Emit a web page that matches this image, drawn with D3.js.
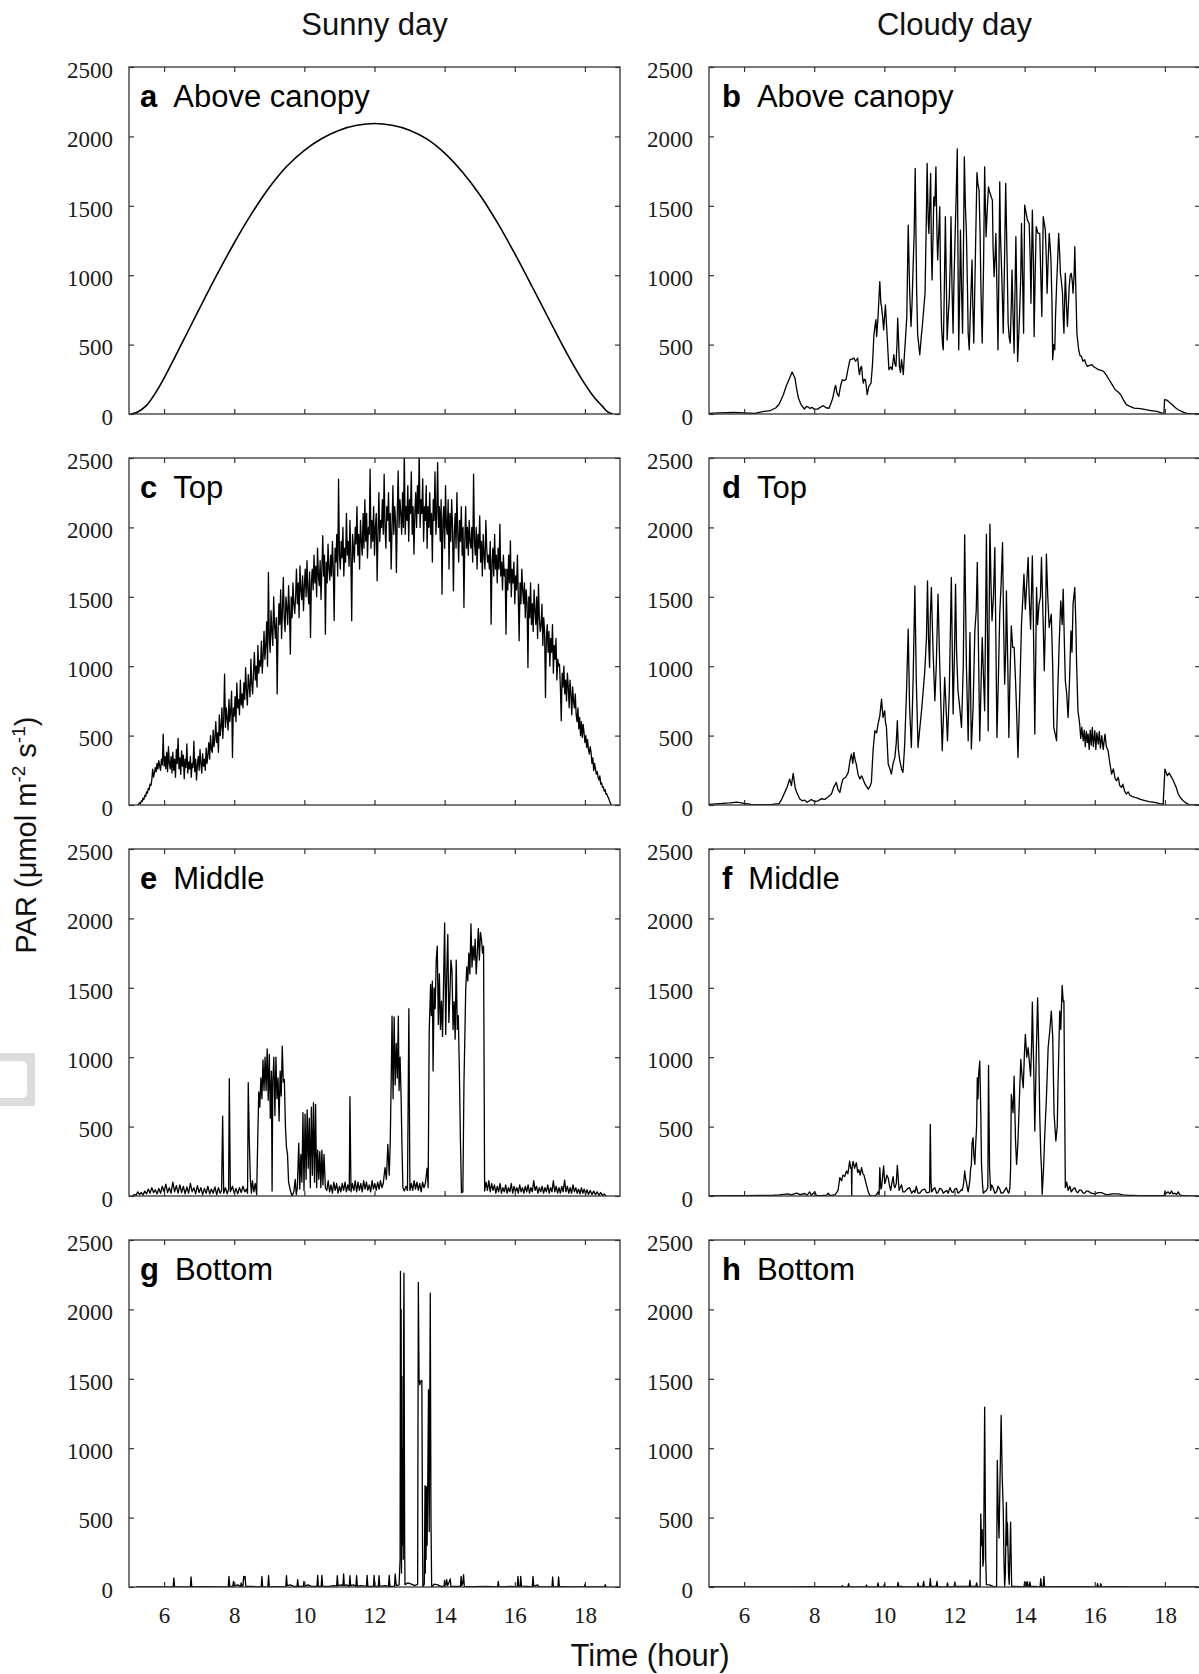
<!DOCTYPE html>
<html>
<head>
<meta charset="utf-8">
<script src="https://cdn.jsdelivr.net/npm/d3@7"></script>
<style>
  body { margin: 0; background: #fff; }
  svg { display: block; }
</style>
</head>
<body>
<div id="chart"></div>
<script>
// axes
var hourDomain = [5, 19];
var parDomain = [0, 2500];
var hourTicks = [6, 8, 10, 12, 14, 16, 18];
var parTicks = [0, 500, 1000, 1500, 2000, 2500];

var columnTitles = ["Sunny day", "Cloudy day"];
var panelLetters = ["a", "b", "c", "d", "e", "f", "g", "h"];
var panelNames = ["Above canopy", "Above canopy", "Top", "Top", "Middle", "Middle", "Bottom", "Bottom"];

// [hour, PAR]
var sunnyAbove = [[5.05,0],[5.25,15],[5.5,62],[5.75,150],[6.0,259],[6.5,505],[7.0,755],[7.5,1000],[8.0,1232],
  [8.5,1445],[9.0,1632],[9.5,1785],[10.0,1900],[10.5,1985],[11.0,2045],[11.5,2080],[12.0,2093],[12.5,2080],
  [13.0,2045],[13.5,1980],[14.0,1880],[14.5,1745],[15.0,1580],[15.5,1380],[16.0,1155],[16.5,915],[17.0,670],
  [17.5,430],[18.0,215],[18.25,125],[18.5,55],[18.65,15],[18.8,0]];

var cloudyAbove = [[5.0,5],[5.3,8],[5.71,12],[6.0,8],[6.3,5],[6.58,19],[6.75,25],[6.9,43],[7.0,70],[7.12,139],
  [7.2,200],[7.28,247],[7.37,302],[7.45,259],[7.5,180],[7.55,115],[7.62,70],[7.72,36],[7.78,55],[7.83,50],
  [7.88,40],[7.93,48],[8.0,35],[8.1,35],[8.18,50],[8.26,60],[8.34,45],[8.42,40],[8.48,80],[8.53,115],[8.58,180],
  [8.61,206],[8.65,150],[8.7,127],[8.75,200],[8.8,247],[8.86,240],[8.91,252],[8.96,320],[9.02,391],[9.08,395],
  [9.13,403],[9.18,380],[9.24,403],[9.27,320],[9.29,283],[9.32,330],[9.35,343],[9.38,260],[9.4,223],[9.43,250],
  [9.46,247],[9.49,190],[9.51,139],[9.56,200],[9.62,223],[9.66,350],[9.7,560],[9.73,630],[9.76,680],[9.78,558],
  [9.82,700],[9.87,954],[9.9,800],[9.92,774],[9.95,700],[9.98,606],[10.03,786],[10.06,650],[10.08,558],
  [10.13,319],[10.18,340],[10.22,319],[10.27,427],[10.3,360],[10.33,343],[10.36,500],[10.38,690],[10.41,500],
  [10.43,343],[10.46,300],[10.49,391],[10.52,330],[10.54,283],[10.57,420],[10.6,534],[10.64,700],[10.68,1361],
  [10.72,900],[10.76,630],[10.79,800],[10.82,1062],[10.85,1300],[10.88,1769],[10.92,900],[10.95,570],[10.98,500],
  [11.01,427],[11.05,550],[11.09,654],[11.12,750],[11.16,870],[11.19,1300],[11.22,1805],[11.25,1400],[11.27,1301],
  [11.3,1550],[11.32,1733],[11.34,1200],[11.36,966],[11.39,1300],[11.41,1565],[11.44,1500],[11.47,1781],
  [11.5,1300],[11.52,1110],[11.55,1300],[11.58,1493],[11.6,1000],[11.63,630],[11.66,500],[11.68,463],[11.71,900],
  [11.74,1421],[11.77,900],[11.79,534],[11.82,700],[11.85,822],[11.88,1100],[11.9,1421],[11.93,900],[11.96,582],
  [11.98,900],[12.01,1205],[12.05,1600],[12.08,1910],[12.1,1100],[12.12,463],[12.15,900],[12.17,1325],[12.2,900],
  [12.23,582],[12.26,1300],[12.28,1853],[12.31,1500],[12.34,1301],[12.37,900],[12.39,582],[12.42,463],[12.46,800],
  [12.5,1110],[12.52,800],[12.55,511],[12.6,1200],[12.64,1738],[12.67,1650],[12.7,1613],[12.73,1300],[12.75,966],
  [12.77,700],[12.79,511],[12.83,1100],[12.86,1781],[12.88,1500],[12.9,1277],[12.94,1500],[12.97,1637],[13.0,1600],
  [13.02,1589],[13.05,1560],[13.08,1541],[13.1,1200],[13.13,990],[13.16,1150],[13.18,1301],[13.21,900],[13.24,463],
  [13.27,1100],[13.29,1673],[13.31,1300],[13.34,1062],[13.37,800],[13.39,582],[13.42,1000],[13.46,1661],[13.5,1100],
  [13.53,654],[13.56,550],[13.59,511],[13.62,800],[13.64,1038],[13.67,700],[13.7,439],[13.72,800],[13.75,1277],
  [13.78,800],[13.8,379],[13.83,550],[13.86,750],[13.89,1000],[13.91,1373],[13.94,1000],[13.97,582],[14.0,1505],
  [14.04,1450],[14.08,1397],[14.13,1373],[14.16,1100],[14.18,798],[14.22,1469],[14.25,1100],[14.27,558],[14.3,1000],
  [14.33,1349],[14.38,1301],[14.43,1301],[14.46,1000],[14.49,702],[14.53,1421],[14.59,1325],[14.62,1100],[14.64,870],
  [14.67,1100],[14.7,1301],[14.73,1200],[14.75,1110],[14.78,800],[14.8,391],[14.83,500],[14.86,463],[14.88,700],
  [14.91,918],[14.94,1100],[14.97,1301],[15.0,1150],[15.02,1014],[15.05,950],[15.08,870],[15.1,700],[15.12,582],
  [15.14,800],[15.16,1014],[15.19,800],[15.22,630],[15.25,800],[15.27,918],[15.3,1000],[15.33,1014],[15.36,950],
  [15.38,870],[15.41,1000],[15.43,1205],[15.46,900],[15.49,582],[15.54,463],[15.58,420],[15.62,415],[15.66,380],
  [15.71,391],[15.75,360],[15.79,343],[15.85,350],[15.92,355],[15.97,340],[16.03,331],[16.1,320],[16.18,315],
  [16.25,307],[16.33,280],[16.41,247],[16.5,210],[16.58,175],[16.66,160],[16.74,139],[16.82,100],[16.9,67],
  [17.0,55],[17.12,43],[17.3,38],[17.45,31],[17.6,25],[17.77,19],[17.9,8],[17.97,0],[17.99,103],[18.05,100],
  [18.1,91],[18.15,80],[18.21,67],[18.3,45],[18.38,31],[18.46,20],[18.54,12],[18.63,5],[18.72,2],[18.85,0],[18.98,0]];

// sunny top: one reading every 0.025 h from 5.25 h (20 per half hour)
var sunnyTopStart = 5.25;
var sunnyTopStep = 0.025;
var sunnyTop = [
  0, 5, 15, 10, 30, 25, 50, 40, 70, 60, 95, 85, 120, 110, 150, 140, 180, 259, 200, 230,
  270, 240, 300, 260, 320, 280, 250, 330, 290, 511, 280, 350, 260, 380, 240, 420, 300, 260, 350, 230,
  380, 250, 330, 200, 400, 300, 480, 260, 340, 220, 390, 280, 360, 190, 330, 270, 440, 230, 310, 260,
  350, 200, 300, 270, 460, 240, 330, 180, 290, 350, 250, 400, 300, 230, 370, 280, 330, 250, 410, 300,
  360, 450, 330, 500, 400, 380, 540, 420, 480, 600, 450, 520, 380, 650, 500, 560, 700, 480, 620, 943,
  560, 700, 620, 540, 760, 600, 680, 820, 343, 700, 640, 780, 600, 880, 700, 760, 650, 900, 720, 800,
  700, 880, 760, 990, 820, 720, 940, 860, 780, 1050, 880, 800, 960, 1100, 900, 1000, 850, 1150, 950, 1040,
  1000, 1180, 950, 1080, 1250, 1050, 1150, 1320, 1000, 1675, 1200, 1100, 1400, 1250, 1150, 1500, 1300, 1200, 1350, 800,
  1250, 1450, 1300, 1550, 1200, 1400, 1640, 1350, 1250, 1500, 1420, 1300, 1580, 1400, 1087, 1500, 1350, 1600, 1450, 1380,
  1500, 1700, 1450, 1600, 1350, 1723, 1550, 1480, 1650, 1400, 1580, 1700, 1500, 1760, 1550, 1450, 1680, 1207, 1600, 1700,
  1550, 1800, 1600, 1720, 1500, 1850, 1650, 1580, 1760, 1480, 1700, 1940, 1650, 1800, 1231, 1750, 1600, 1880, 1700, 1620,
  1800, 1650, 1900, 1700, 1330, 1850, 1750, 1950, 1650, 2347, 1800, 1700, 1900, 1780, 2000, 1650, 1850, 1750, 2100, 1800,
  1900, 1720, 2050, 1800, 1327, 1950, 1850, 1750, 2000, 1880, 2150, 1800, 1950, 1700, 2050, 1900, 1800, 2100, 1850, 2200,
  1900, 2100, 1780, 2000, 1950, 2420, 1850, 2050, 1900, 2150, 1800, 2000, 2100, 1615, 1950, 2250, 1900, 2050, 2000, 2200,
  1950, 2383, 2000, 1850, 2150, 2050, 2250, 1900, 2100, 1700, 2000, 2300, 1950, 2150, 2050, 1675, 2100, 2407, 2000, 2200,
  2100, 1950, 2250, 2000, 2550, 1950, 2150, 2050, 2300, 1900, 2200, 2100, 2400, 1950, 2150, 1807, 2100, 2250, 2000, 2300,
  2100, 2550, 2000, 2200, 2100, 2350, 1900, 2150, 2050, 2300, 1850, 2150, 2000, 2250, 1950, 2100, 1750, 2200, 2050, 2400,
  1950, 2100, 2467, 2000, 2150, 1900, 2200, 1519, 2050, 2150, 1850, 2300, 2000, 1950, 2200, 1700, 2100, 1900, 2200, 2000,
  1543, 1950, 2100, 1850, 2250, 1950, 1750, 2050, 1900, 2150, 1800, 2000, 1423, 1900, 2150, 1850, 2000, 1800, 2050, 1900,
  1850, 2000, 1750, 2383, 1900, 1800, 2000, 1700, 1950, 1850, 2083, 1750, 1900, 1650, 1950, 1800, 1700, 2050, 1850, 1750,
  1800, 1700, 1900, 1303, 1750, 1850, 1650, 1950, 1700, 1800, 1600, 1850, 1700, 2023, 1650, 1750, 1550, 1800, 1650, 1700,
  1231, 1700, 1550, 1800, 1600, 1903, 1500, 1700, 1600, 1750, 1450, 1650, 1550, 1800, 1500, 1183, 1600, 1450, 1700, 1550,
  1450, 1600, 1350, 1550, 1450, 991, 1500, 1350, 1600, 1300, 1450, 1250, 1550, 1400, 1300, 1500, 1200, 1591, 1350, 1250,
  1300, 1447, 1150, 1350, 1250, 775, 1200, 1300, 1100, 1250, 1000, 1200, 1100, 1300, 950, 1150, 1050, 1200, 900, 1050,
  1000, 1015, 850, 607, 950, 850, 1000, 800, 900, 750, 950, 850, 700, 900, 800, 650, 850, 750, 700, 800,
  650, 600, 700, 550, 631, 500, 600, 487, 580, 520, 450, 500, 415, 470, 400, 367, 420, 380, 300, 340,
  247, 300, 260, 223, 240, 200, 180, 210, 150, 160, 127, 130, 100, 110, 79, 80, 60, 50, 30, 15,
  0];

var cloudyTop = [[5.0,5],[5.3,10],[5.6,15],[5.8,20],[6.0,12],[6.2,5],[6.5,3],[6.8,5],[7.0,10],[7.07,40],[7.16,91],
  [7.23,130],[7.3,187],[7.35,140],[7.4,228],[7.46,120],[7.52,80],[7.59,43],[7.66,30],[7.73,35],[7.8,20],[7.92,40],
  [8.0,25],[8.11,30],[8.2,45],[8.3,40],[8.4,60],[8.49,79],[8.56,130],[8.63,163],[8.68,110],[8.73,90],[8.78,150],
  [8.82,187],[8.9,200],[8.97,235],[9.02,320],[9.06,367],[9.1,300],[9.13,379],[9.17,320],[9.2,295],[9.25,220],
  [9.3,187],[9.35,210],[9.39,187],[9.45,150],[9.54,115],[9.6,140],[9.63,163],[9.68,400],[9.73,535],[9.78,520],
  [9.82,583],[9.87,640],[9.92,763],[9.96,631],[10.01,679],[10.03,600],[10.06,559],[10.11,295],[10.16,260],
  [10.2,223],[10.25,300],[10.3,343],[10.34,450],[10.37,607],[10.4,400],[10.44,319],[10.49,260],[10.53,235],
  [10.56,350],[10.58,439],[10.63,800],[10.68,1267],[10.72,700],[10.77,415],[10.82,900],[10.87,1579],[10.91,900],
  [10.96,415],[11.01,550],[11.06,679],[11.1,800],[11.15,955],[11.2,1200],[11.23,1615],[11.26,1200],[11.29,991],
  [11.31,1350],[11.34,1567],[11.39,1100],[11.44,751],[11.48,1000],[11.53,1519],[11.58,1000],[11.65,391],
  [11.68,600],[11.72,919],[11.76,700],[11.8,463],[11.85,800],[11.91,1639],[11.96,655],[12.0,1100],[12.03,1591],
  [12.06,1100],[12.1,823],[12.15,700],[12.2,559],[12.25,1000],[12.29,1946],[12.34,1000],[12.39,463],[12.44,1243],
  [12.48,403],[12.53,700],[12.58,1255],[12.62,1400],[12.65,1747],[12.72,463],[12.76,900],[12.79,1207],[12.83,900],
  [12.86,679],[12.91,1951],[12.94,1200],[12.96,535],[13.01,2023],[13.04,1600],[13.07,1327],[13.11,1500],
  [13.15,1855],[13.18,1200],[13.21,487],[13.25,900],[13.29,1375],[13.33,1600],[13.37,1891],[13.4,1300],
  [13.43,871],[13.46,1100],[13.48,1543],[13.52,1000],[13.55,487],[13.58,900],[13.62,1291],[13.66,1135],
  [13.7,1135],[13.74,900],[13.77,679],[13.81,343],[13.86,800],[13.91,1303],[13.95,1500],[13.98,1663],[14.02,1411],
  [14.06,1600],[14.1,1783],[14.13,1500],[14.17,1267],[14.22,1795],[14.25,1300],[14.29,511],[14.34,1567],
  [14.37,1300],[14.41,1447],[14.45,1500],[14.48,1783],[14.52,1400],[14.56,967],[14.6,1400],[14.62,1807],
  [14.66,1500],[14.7,1279],[14.76,1375],[14.8,1000],[14.83,559],[14.88,500],[14.91,463],[14.95,871],[14.99,1200],
  [15.03,1471],[15.07,1300],[15.1,1555],[15.13,1200],[15.16,895],[15.2,800],[15.24,631],[15.28,900],[15.32,1255],
  [15.35,1100],[15.38,1447],[15.43,1567],[15.46,1300],[15.48,1039],[15.52,679],[15.57,583],[15.6,480],[15.63,560],
  [15.67,463],[15.7,540],[15.73,420],[15.76,530],[15.79,450],[15.81,511],[15.84,400],[15.87,540],[15.9,430],
  [15.93,559],[15.96,420],[16.0,535],[16.03,400],[16.06,520],[16.1,439],[16.13,530],[16.16,410],[16.2,500],
  [16.24,400],[16.29,511],[16.33,420],[16.38,391],[16.43,300],[16.48,223],[16.53,260],[16.58,190],[16.62,175],
  [16.67,200],[16.71,140],[16.76,127],[16.8,150],[16.85,100],[16.9,79],[16.95,95],[17.0,70],[17.07,60],
  [17.14,55],[17.22,50],[17.3,40],[17.43,31],[17.55,25],[17.71,19],[17.85,10],[17.95,7],[18.0,259],[18.04,230],
  [18.07,211],[18.12,230],[18.19,199],[18.23,180],[18.28,151],[18.33,120],[18.38,79],[18.45,50],[18.52,31],
  [18.6,15],[18.66,7],[18.75,0],[18.98,0]];

var sunnyMiddle = [[5.1,0],[5.15,10],[5.2,5],[5.25,30],[5.3,10],[5.35,25],[5.4,8],[5.45,35],[5.5,15],[5.55,50],
  [5.6,20],[5.65,60],[5.7,25],[5.75,45],[5.8,15],[5.85,55],[5.9,20],[5.95,70],[6.0,30],[6.05,85],[6.1,25],
  [6.15,60],[6.2,20],[6.25,100],[6.3,30],[6.35,75],[6.4,20],[6.45,80],[6.5,25],[6.55,70],[6.6,15],[6.65,65],
  [6.7,20],[6.75,90],[6.8,30],[6.85,60],[6.9,15],[6.95,75],[7.0,25],[7.05,60],[7.1,10],[7.15,55],[7.2,20],
  [7.25,70],[7.3,15],[7.35,50],[7.4,20],[7.45,65],[7.5,10],[7.55,60],[7.6,20],[7.64,40],[7.67,576],[7.7,20],
  [7.75,60],[7.8,15],[7.84,50],[7.86,845],[7.89,30],[7.95,70],[8.0,20],[8.05,55],[8.1,15],[8.15,60],[8.2,25],
  [8.25,70],[8.3,30],[8.35,50],[8.38,20],[8.4,816],[8.43,400],[8.46,120],[8.49,20],[8.52,110],[8.56,30],
  [8.6,90],[8.64,10],[8.67,400],[8.7,750],[8.73,640],[8.76,850],[8.79,700],[8.82,980],[8.85,760],[8.88,1000],
  [8.91,760],[8.94,1060],[8.97,690],[9.0,1020],[9.03,560],[9.06,900],[9.08,36],[9.1,820],[9.13,1000],[9.16,580],
  [9.19,1000],[9.22,700],[9.25,850],[9.28,540],[9.31,900],[9.34,720],[9.37,1080],[9.4,820],[9.43,840],[9.46,500],
  [9.49,350],[9.52,300],[9.55,100],[9.6,40],[9.65,0],[9.7,30],[9.74,120],[9.77,10],[9.8,60],[9.84,380],[9.87,50],
  [9.9,300],[9.93,100],[9.96,600],[9.99,40],[10.02,590],[10.05,120],[10.08,620],[10.11,200],[10.14,560],
  [10.17,60],[10.2,640],[10.23,150],[10.26,672],[10.29,100],[10.32,660],[10.35,60],[10.38,330],[10.41,120],
  [10.44,320],[10.47,60],[10.5,330],[10.53,80],[10.56,300],[10.6,60],[10.64,40],[10.68,110],[10.72,30],
  [10.76,80],[10.8,20],[10.84,100],[10.88,40],[10.92,90],[10.96,20],[11.0,70],[11.04,30],[11.08,90],[11.12,40],
  [11.16,100],[11.2,30],[11.24,80],[11.28,40],[11.3,715],[11.33,30],[11.37,90],[11.41,40],[11.45,110],[11.49,30],
  [11.53,100],[11.57,40],[11.61,90],[11.65,30],[11.69,110],[11.73,50],[11.77,100],[11.81,40],[11.85,80],
  [11.89,30],[11.93,110],[11.97,50],[12.01,90],[12.05,40],[12.09,100],[12.13,50],[12.17,110],[12.21,60],
  [12.25,90],[12.3,204],[12.34,120],[12.38,372],[12.42,150],[12.45,400],[12.48,900],[12.5,1296],[12.53,700],
  [12.56,1290],[12.59,800],[12.62,1100],[12.65,850],[12.68,1296],[12.7,760],[12.73,1000],[12.76,700],[12.78,400],
  [12.81,60],[12.85,36],[12.9,70],[12.94,40],[12.98,1349],[13.01,40],[13.05,90],[13.09,40],[13.13,110],
  [13.17,50],[13.21,100],[13.25,40],[13.29,90],[13.33,30],[13.37,100],[13.41,60],[13.45,90],[13.5,200],
  [13.53,60],[13.56,1188],[13.6,1524],[13.62,1300],[13.65,1548],[13.67,900],[13.7,1500],[13.73,1350],
  [13.76,1700],[13.79,1800],[13.82,1236],[13.85,1600],[13.88,1200],[13.91,1404],[13.94,1150],[13.97,1550],
  [14.0,1968],[14.03,1164],[14.06,1600],[14.09,1884],[14.12,1250],[14.15,1450],[14.18,1700],[14.21,1620],
  [14.24,1200],[14.27,1400],[14.3,1130],[14.33,1700],[14.36,1200],[14.39,1300],[14.42,900],[14.45,400],
  [14.48,24],[14.52,30],[14.55,800],[14.58,1200],[14.6,1476],[14.63,1650],[14.66,1550],[14.69,1750],[14.72,1600],
  [14.75,1961],[14.78,1650],[14.81,1800],[14.84,1700],[14.87,1850],[14.9,1600],[14.93,1750],[14.96,1927],
  [14.99,1700],[15.02,1900],[15.05,1850],[15.08,1750],[15.11,1800],[15.14,36],[15.18,100],[15.22,40],[15.26,110],
  [15.3,30],[15.34,90],[15.38,40],[15.42,80],[15.46,20],[15.5,70],[15.54,30],[15.58,90],[15.62,20],[15.66,60],
  [15.7,30],[15.74,80],[15.78,20],[15.82,60],[15.86,30],[15.9,90],[15.94,20],[15.98,70],[16.02,30],[16.06,60],
  [16.1,20],[16.14,80],[16.18,30],[16.22,60],[16.26,20],[16.3,70],[16.34,30],[16.38,80],[16.42,20],[16.46,60],
  [16.5,30],[16.54,110],[16.58,40],[16.62,70],[16.66,20],[16.7,60],[16.74,30],[16.78,70],[16.82,20],[16.86,60],
  [16.9,30],[16.94,80],[16.98,20],[17.02,60],[17.06,30],[17.1,110],[17.14,30],[17.18,70],[17.22,20],[17.26,60],
  [17.3,20],[17.34,70],[17.38,30],[17.42,115],[17.46,30],[17.5,70],[17.54,20],[17.58,60],[17.62,20],[17.66,80],
  [17.7,30],[17.74,60],[17.78,20],[17.82,50],[17.86,15],[17.9,60],[17.94,20],[17.98,50],[18.02,15],[18.06,45],
  [18.1,10],[18.15,40],[18.2,10],[18.25,35],[18.3,10],[18.35,30],[18.4,5],[18.45,25],[18.5,5],[18.55,15],[18.6,0]];

var cloudyMiddle = [[5.0,0],[5.5,2],[6.0,3],[6.5,5],[6.8,4],[7.0,8],[7.25,15],[7.35,8],[7.5,20],[7.6,10],[7.73,18],
  [7.8,6],[7.87,30],[7.92,5],[8.02,30],[8.06,4],[8.2,3],[8.35,6],[8.4,20],[8.45,4],[8.49,5],[8.6,10],[8.68,40],
  [8.73,132],[8.78,110],[8.82,150],[8.87,140],[8.92,180],[8.96,160],[9.01,252],[9.04,200],[9.06,200],[9.07,5],
  [9.08,210],[9.11,250],[9.15,200],[9.2,240],[9.24,170],[9.27,190],[9.31,150],[9.35,204],[9.39,160],[9.42,150],
  [9.46,110],[9.49,80],[9.53,40],[9.58,5],[9.65,2],[9.73,0],[9.78,10],[9.82,30],[9.85,10],[9.87,204],[9.9,50],
  [9.92,60],[9.95,140],[9.98,216],[10.01,90],[10.03,100],[10.07,150],[10.11,130],[10.15,70],[10.18,40],
  [10.22,100],[10.25,140],[10.28,70],[10.3,60],[10.34,90],[10.37,220],[10.42,40],[10.45,60],[10.49,80],
  [10.53,30],[10.58,30],[10.65,50],[10.72,60],[10.78,20],[10.84,40],[10.87,25],[10.91,70],[10.96,20],[11.01,20],
  [11.08,45],[11.15,50],[11.2,25],[11.25,25],[11.29,30],[11.31,516],[11.33,100],[11.35,30],[11.4,50],[11.44,60],
  [11.49,20],[11.53,25],[11.58,55],[11.63,50],[11.68,20],[11.72,30],[11.78,40],[11.82,20],[11.87,60],[11.92,30],
  [11.96,25],[12.01,50],[12.06,55],[12.1,20],[12.15,30],[12.19,45],[12.22,40],[12.26,90],[12.29,180],[12.32,120],
  [12.34,100],[12.37,50],[12.39,30],[12.42,80],[12.44,120],[12.46,200],[12.48,220],[12.5,380],[12.53,420],
  [12.55,300],[12.58,228],[12.6,350],[12.63,500],[12.65,852],[12.67,700],[12.69,880],[12.72,972],[12.75,600],
  [12.77,228],[12.8,80],[12.82,20],[12.86,30],[12.91,40],[12.95,60],[12.97,941],[13.0,200],[13.03,40],[13.06,80],
  [13.1,60],[13.15,20],[13.2,30],[13.24,70],[13.29,50],[13.33,20],[13.39,25],[13.43,40],[13.48,60],[13.52,30],
  [13.55,20],[13.58,60],[13.6,200],[13.62,732],[13.65,650],[13.67,600],[13.7,864],[13.74,400],[13.77,228],
  [13.79,300],[13.81,396],[13.85,700],[13.89,984],[13.93,850],[13.96,780],[13.99,1000],[14.02,1164],[14.06,1000],
  [14.1,1068],[14.14,950],[14.17,864],[14.2,1100],[14.22,1397],[14.26,900],[14.29,468],[14.33,1000],[14.37,1428],
  [14.4,1100],[14.43,588],[14.46,300],[14.48,200],[14.5,12],[14.54,200],[14.57,420],[14.62,700],[14.67,1068],
  [14.72,1200],[14.76,1332],[14.8,1150],[14.84,588],[14.89,396],[14.93,500],[14.95,780],[14.97,1000],[15.0,1332],
  [15.03,1200],[15.07,1517],[15.1,1400],[15.12,1404],[15.14,700],[15.16,60],[15.2,100],[15.24,40],[15.29,70],
  [15.33,30],[15.38,50],[15.43,60],[15.48,30],[15.52,25],[15.57,45],[15.62,40],[15.67,20],[15.71,20],[15.76,35],
  [15.81,35],[15.9,20],[16.0,15],[16.1,25],[16.19,25],[16.3,12],[16.38,10],[16.5,15],[16.67,15],[16.8,8],
  [16.95,5],[17.1,4],[17.24,3],[17.4,3],[17.62,2],[17.8,3],[17.98,5],[18.0,36],[18.04,20],[18.09,30],[18.14,15],
  [18.19,36],[18.23,15],[18.28,20],[18.33,10],[18.38,30],[18.42,10],[18.47,5],[18.66,0],[18.95,0]];

var sunnyBottom = [[5.2,0],[6.26,0],[6.28,65],[6.3,0],[6.75,0],[6.77,72],[6.79,0],[7.2,3],[7.5,0],[7.83,0],
  [7.85,77],[7.87,5],[7.96,5],[7.98,40],[8.0,10],[8.1,15],[8.18,5],[8.2,29],[8.22,5],[8.25,10],[8.27,77],
  [8.29,60],[8.31,77],[8.33,5],[8.5,4],[8.77,0],[8.79,77],[8.81,0],[8.96,0],[8.98,82],[9.0,0],[9.2,3],[9.47,0],
  [9.49,82],[9.51,10],[9.6,15],[9.7,5],[9.79,5],[9.81,53],[9.83,5],[9.97,5],[9.99,40],[10.01,5],[10.1,15],
  [10.2,5],[10.36,5],[10.38,84],[10.4,5],[10.48,5],[10.5,84],[10.52,5],[10.7,5],[10.85,10],[10.92,5],[10.94,82],
  [10.96,10],[11.05,15],[11.1,10],[11.12,94],[11.14,10],[11.2,15],[11.28,5],[11.3,82],[11.32,10],[11.4,15],
  [11.47,5],[11.49,82],[11.51,5],[11.6,10],[11.77,5],[11.79,84],[11.81,5],[11.9,5],[11.97,5],[11.99,84],
  [12.01,5],[12.11,5],[12.13,82],[12.15,5],[12.3,10],[12.4,5],[12.42,84],[12.44,5],[12.57,5],[12.59,94],
  [12.62,10],[12.7,15],[12.73,200],[12.74,2273],[12.75,400],[12.76,2000],[12.77,100],[12.78,1517],[12.79,300],
  [12.81,1000],[12.82,200],[12.83,1800],[12.84,2261],[12.86,300],[12.87,17],[12.95,30],[13.05,20],[13.15,10],
  [13.23,20],[13.25,2194],[13.27,1500],[13.29,1457],[13.31,1480],[13.35,1488],[13.37,300],[13.38,0],[13.42,20],
  [13.44,730],[13.45,100],[13.46,725],[13.47,200],[13.49,720],[13.5,300],[13.52,800],[13.54,1421],[13.56,400],
  [13.59,2117],[13.61,500],[13.63,0],[13.7,20],[13.8,15],[13.9,5],[13.98,5],[14.0,48],[14.02,10],[14.04,20],
  [14.06,53],[14.08,10],[14.12,30],[14.16,58],[14.18,5],[14.3,5],[14.45,5],[14.47,77],[14.49,10],[14.52,30],
  [14.54,89],[14.56,5],[14.8,3],[15.2,5],[15.51,0],[15.53,40],[15.55,0],[15.9,5],[16.07,0],[16.09,77],[16.11,5],
  [16.15,5],[16.17,77],[16.19,5],[16.35,5],[16.5,0],[16.52,77],[16.54,5],[16.65,15],[16.7,0],[17.06,0],[17.08,72],
  [17.1,5],[17.23,0],[17.25,72],[17.27,5],[17.5,0],[17.98,0],[18.0,17],[18.02,0],[18.56,0],[18.58,17],[18.6,0]];

var cloudyBottom = [[5.0,0],[7.5,0],[8.0,2],[8.78,0],[8.8,10],[8.82,0],[8.96,0],[8.98,24],[9.0,0],[9.47,0],
  [9.49,15],[9.51,0],[9.8,0],[9.82,29],[9.84,0],[9.98,0],[10.0,20],[10.02,0],[10.37,0],[10.39,34],[10.41,5],
  [10.5,5],[10.52,0],[10.94,0],[10.96,29],[10.98,5],[11.1,5],[11.12,41],[11.14,5],[11.29,0],[11.31,60],[11.33,5],
  [11.48,5],[11.5,41],[11.52,0],[11.78,0],[11.8,29],[11.82,0],[11.99,5],[12.01,36],[12.03,5],[12.15,5],
  [12.42,5],[12.44,48],[12.46,5],[12.61,5],[12.63,29],[12.65,5],[12.73,0],[12.75,526],[12.77,300],[12.79,413],
  [12.81,150],[12.83,200],[12.86,1296],[12.89,200],[12.91,17],[13.0,15],[13.1,5],[13.2,0],[13.22,912],[13.25,500],
  [13.27,353],[13.3,800],[13.33,1236],[13.36,800],[13.39,557],[13.41,200],[13.43,5],[13.45,100],[13.48,610],
  [13.5,300],[13.51,461],[13.54,100],[13.56,20],[13.6,468],[13.61,300],[13.63,5],[13.7,5],[13.98,0],[14.0,36],
  [14.02,5],[14.04,36],[14.06,5],[14.08,36],[14.1,5],[14.13,0],[14.15,36],[14.17,5],[14.3,5],[14.44,0],
  [14.46,60],[14.48,5],[14.53,5],[14.55,77],[14.57,0],[15.0,3],[15.5,2],[16.06,0],[16.08,24],[16.1,0],[16.15,0],
  [16.17,24],[16.19,0],[16.5,2],[17.0,0],[18.95,0]];

var panelSeries = [sunnyAbove, cloudyAbove,
  sunnyTop.map(function (v, i) { return [sunnyTopStart + i * sunnyTopStep, v]; }), cloudyTop,
  sunnyMiddle, cloudyMiddle, sunnyBottom, cloudyBottom];

var svgWidth = 1199, svgHeight = 1674;
var colLeft = [129, 709];
var rowTop = [67, 458, 849, 1240];
var panelW = 491, panelH = 347;

var svg = d3.select("#chart")
    .append("svg")
    .attr("width", svgWidth)
    .attr("height", svgHeight);

var x = d3.scaleLinear().domain(hourDomain).range([0, panelW]);
var y = d3.scaleLinear().domain(parDomain).range([panelH, 0]);

var rawLine = d3.line()
    .x(function (d) { return x(d[0]); })
    .y(function (d) { return y(d[1]); });

var smoothLine = d3.line()
    .curve(d3.curveCatmullRom.alpha(0.5))
    .x(function (d) { return x(d[0]); })
    .y(function (d) { return y(d[1]); });

var sans = "'Liberation Sans', Arial, Helvetica, sans-serif";
var serif = "'Liberation Serif', 'Times New Roman', serif";

// column titles
columnTitles.forEach(function (t, c) {
    svg.append("text")
        .attr("x", colLeft[c] + panelW / 2)
        .attr("y", 35)
        .attr("text-anchor", "middle")
        .style("font-family", sans)
        .style("font-size", "31px")
        .attr("fill", "#111")
        .text(t);
});

function styleAxis(sel) {
    sel.attr("color", "#333")
        .attr("font-family", serif)
        .attr("font-size", 23);
    sel.select(".domain").remove();
    sel.selectAll(".tick line").attr("stroke-width", 1.2);
    sel.selectAll(".tick text").attr("fill", "#1a1a1a");
}

panelSeries.forEach(function (series, i) {
    var col = i % 2, row = Math.floor(i / 2);
    var g = svg.append("g")
        .attr("transform", "translate(" + colLeft[col] + "," + rowTop[row] + ")");

    g.append("clipPath")
        .attr("id", "clip" + i)
        .append("rect")
        .attr("width", panelW)
        .attr("height", panelH);

    g.append("path")
        .datum(series)
        .attr("clip-path", "url(#clip" + i + ")")
        .attr("fill", "none")
        .attr("stroke", "#000")
        .attr("stroke-width", i === 0 ? 1.6 : 1.3)
        .attr("stroke-linejoin", "round")
        .attr("d", i === 0 ? smoothLine : rawLine);

    g.append("g")
        .call(d3.axisLeft(y).tickValues(parTicks).tickFormat(d3.format("d")).tickSize(-5).tickPadding(16))
        .call(styleAxis)
        .selectAll(".tick text").attr("dy", "0.45em");

    g.append("g")
        .attr("transform", "translate(" + panelW + ",0)")
        .call(d3.axisRight(y).tickValues(parTicks).tickSize(-5).tickFormat(""))
        .call(styleAxis);

    g.append("g")
        .call(d3.axisTop(x).tickValues(hourTicks).tickSize(-5).tickFormat(""))
        .call(styleAxis);

    var bottom = d3.axisBottom(x).tickValues(hourTicks).tickFormat(d3.format("d")).tickSize(-5).tickPadding(20);
    if (row < 3) bottom.tickFormat("");
    g.append("g")
        .attr("transform", "translate(0," + panelH + ")")
        .call(bottom)
        .call(styleAxis);

    g.append("rect")
        .attr("width", panelW)
        .attr("height", panelH)
        .attr("fill", "none")
        .attr("stroke", "#333")
        .attr("stroke-width", 1.3);

    var label = g.append("text")
        .attr("x", col === 0 ? 11 : 13)
        .attr("y", 40)
        .style("font-family", sans)
        .style("font-size", "31px")
        .attr("fill", "#000");
    label.append("tspan").attr("font-weight", "bold").text(panelLetters[i]);
    label.append("tspan").attr("dx", 16).text(panelNames[i]);
});

// y title
var yTitle = svg.append("text")
    .attr("transform", "translate(36,835) rotate(-90)")
    .attr("text-anchor", "middle")
    .style("font-family", sans)
    .style("font-size", "29px")
    .attr("fill", "#111");
yTitle.append("tspan").text("PAR (\u03bcmol m");
yTitle.append("tspan").attr("dy", -11).style("font-size", "19px").text("-2");
yTitle.append("tspan").attr("dy", 11).text(" s");
yTitle.append("tspan").attr("dy", -11).style("font-size", "19px").text("-1");
yTitle.append("tspan").attr("dy", 11).text(")");

// x title
svg.append("text")
    .attr("x", 650)
    .attr("y", 1666)
    .attr("text-anchor", "middle")
    .style("font-family", sans)
    .style("font-size", "31px")
    .attr("fill", "#111")
    .text("Time (hour)");

// light grey mark at the left edge of the scan
svg.append("path")
    .attr("d", "M0,1053 H35 V1106 H0 V1098 H21 Q27,1098 27,1092 V1067 Q27,1061 21,1061 H0 Z")
    .attr("fill", "#dcdcdc");
</script>
</body>
</html>
